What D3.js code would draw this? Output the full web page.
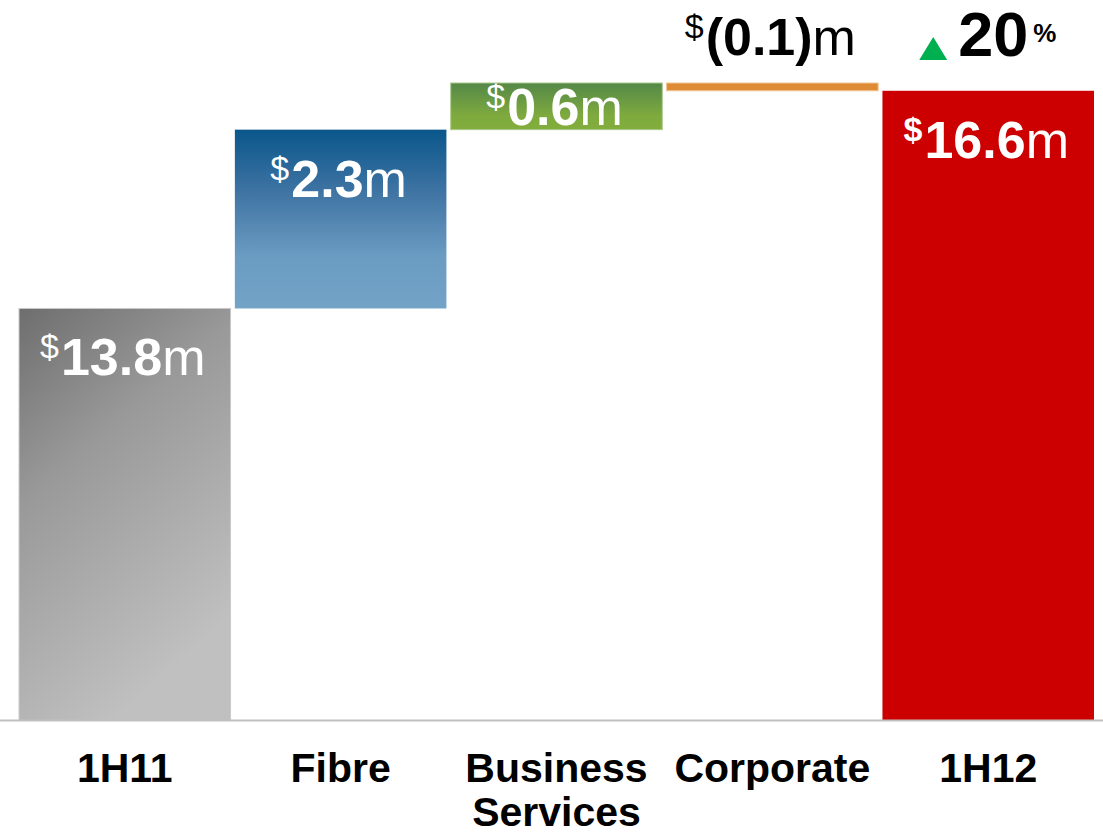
<!DOCTYPE html>
<html>
<head>
<meta charset="utf-8">
<script src="https://cdn.jsdelivr.net/npm/d3@7"></script>
<style>
  html, body { margin: 0; padding: 0; background: #ffffff; }
  svg { display: block; }
  text { font-family: "Liberation Sans", Arial, Helvetica, sans-serif; }
</style>
</head>
<body>
<svg id="chart" width="1103" height="835"></svg>
<script>
// EBITDA bridge, 1H11 -> 1H12 ($m)
const categories = ["1H11", "Fibre", "Business Services", "Corporate", "1H12"];
const values     = [13.8, 2.3, 0.6, -0.1, 16.6];
const isTotal    = [true, false, false, false, true];
// the value axis is truncated: bars rise from this floor
const axisFloor  = 8.5;

const W = 1103, H = 835;
const baseY = 720.5;
const svg = d3.select("#chart");

// running totals for the waterfall
let running = 0;
const rows = categories.map((c, i) => {
  let start, end;
  if (isTotal[i]) { start = axisFloor; end = values[i]; running = values[i]; }
  else { start = running; end = running + values[i]; running = end; }
  return { cat: c, value: values[i], total: isTotal[i], start, end };
});

const yMax = d3.max(rows, d => Math.max(d.start, d.end));

const x = d3.scaleBand().domain(categories).range([19, 1094]).paddingInner(0.02).paddingOuter(0);
const y = d3.scaleLinear().domain([axisFloor, yMax]).range([baseY, 83]);

// gradients
const defs = svg.append("defs");
function grad(id, x2, y2, stops) {
  const g = defs.append("linearGradient").attr("id", id)
    .attr("x1", 0).attr("y1", 0).attr("x2", x2).attr("y2", y2);
  stops.forEach(([o, c]) => g.append("stop").attr("offset", o).attr("stop-color", c));
}
grad("gGrey", 0.45, 1, [[0, "#6e6e6e"], [0.4, "#999999"], [1, "#c0c0c0"]]);
grad("gBlue", 0, 1, [[0, "#0a568b"], [0.35, "#3f74a3"], [0.7, "#6a9bc1"], [1, "#73a3c7"]]);
grad("gGreen", 0, 1, [[0, "#548848"], [0.7, "#7eaa3e"], [1, "#83ad3c"]]);

const fillFor = {
  "1H11": "url(#gGrey)",
  "Fibre": "url(#gBlue)",
  "Business Services": "url(#gGreen)",
  "Corporate": "#df8b35",
  "1H12": "#cc0000"
};
const strokeFor = {
  "1H11": "#c9c9c9",
  "Fibre": "none",
  "Business Services": "#a9c88a",
  "Corporate": "#f0c595",
  "1H12": "none"
};

// bars
svg.append("g").selectAll("rect").data(rows).join("rect")
  .attr("x", d => x(d.cat))
  .attr("width", x.bandwidth())
  .attr("y", d => y(Math.max(d.start, d.end)))
  .attr("height", d => Math.abs(y(d.start) - y(d.end)))
  .attr("fill", d => fillFor[d.cat])
  .attr("stroke", d => strokeFor[d.cat])
  .attr("stroke-width", 1);

// baseline
svg.append("line")
  .attr("x1", 0).attr("x2", W)
  .attr("y1", baseY).attr("y2", baseY)
  .attr("stroke", "#c0c0c0").attr("stroke-width", 2);

// value labels: small raised "$", bold figure, regular "m"
function valueLabel(g, d, xc, yb, color) {
  const t = g.append("text")
    .attr("x", xc).attr("y", yb)
    .attr("text-anchor", "middle")
    .attr("fill", color);
  t.append("tspan").attr("font-size", 34)
    .attr("font-weight", d.cat === "1H12" ? "bold" : "normal")
    .attr("dy", -17).attr("dx", -2).text("$");
  const num = d.value < 0 ? "(" + d3.format(".1f")(-d.value) + ")" : d3.format(".1f")(d.value);
  t.append("tspan").attr("font-size", 52).attr("font-weight", "bold")
    .attr("dy", 17).attr("dx", 2).text(num);
  t.append("tspan").attr("font-size", 52).attr("font-weight", "normal").text("m");
}

const labels = svg.append("g");
rows.forEach(d => {
  const xc = x(d.cat) + x.bandwidth() / 2;
  const top = y(Math.max(d.start, d.end));
  const bottom = y(Math.min(d.start, d.end));
  if (d.value < 0) {
    valueLabel(labels, d, xc, top - 28, "#000000");
  } else {
    const yb = Math.min(top + 67, (top + bottom) / 2 + 19);
    valueLabel(labels, d, xc, yb, "#ffffff");
  }
});

// growth annotation above the closing bar
const first = rows[0], last = rows[rows.length - 1];
const growth = Math.round((last.value / first.value - 1) * 100);
const gx = x(last.cat) + x.bandwidth() / 2;
const gy = y(yMax) - 27;
const tri = d3.path();
tri.moveTo(gx - 69, gy + 4);
tri.lineTo(gx - 55, gy - 19);
tri.lineTo(gx - 41, gy + 4);
tri.closePath();
svg.append("path").attr("d", tri.toString()).attr("fill", "#00b050");
const gt = svg.append("text").attr("x", gx - 30).attr("y", gy).attr("fill", "#000");
gt.append("tspan").attr("font-size", 63).attr("font-weight", "bold").text(growth);
gt.append("tspan").attr("font-size", 26).attr("font-weight", "bold")
  .attr("dx", 5).attr("dy", -14).text("%");

// category axis
const axis = svg.append("g")
  .attr("transform", `translate(0,${baseY})`)
  .call(d3.axisBottom(x).tickSize(0).tickPadding(0));
axis.select(".domain").remove();
axis.selectAll("text")
  .attr("font-size", 41)
  .attr("font-weight", "bold")
  .attr("fill", "#000")
  .attr("font-family", "'Liberation Sans', Arial, sans-serif")
  .each(function(d) {
    const t = d3.select(this);
    const words = d.split(" ");
    t.text(null).attr("y", null).attr("dy", null);
    words.forEach((w, i) => {
      t.append("tspan").attr("x", 0).attr("y", 61.5 + i * 44).text(w);
    });
  });
</script>
</body>
</html>
